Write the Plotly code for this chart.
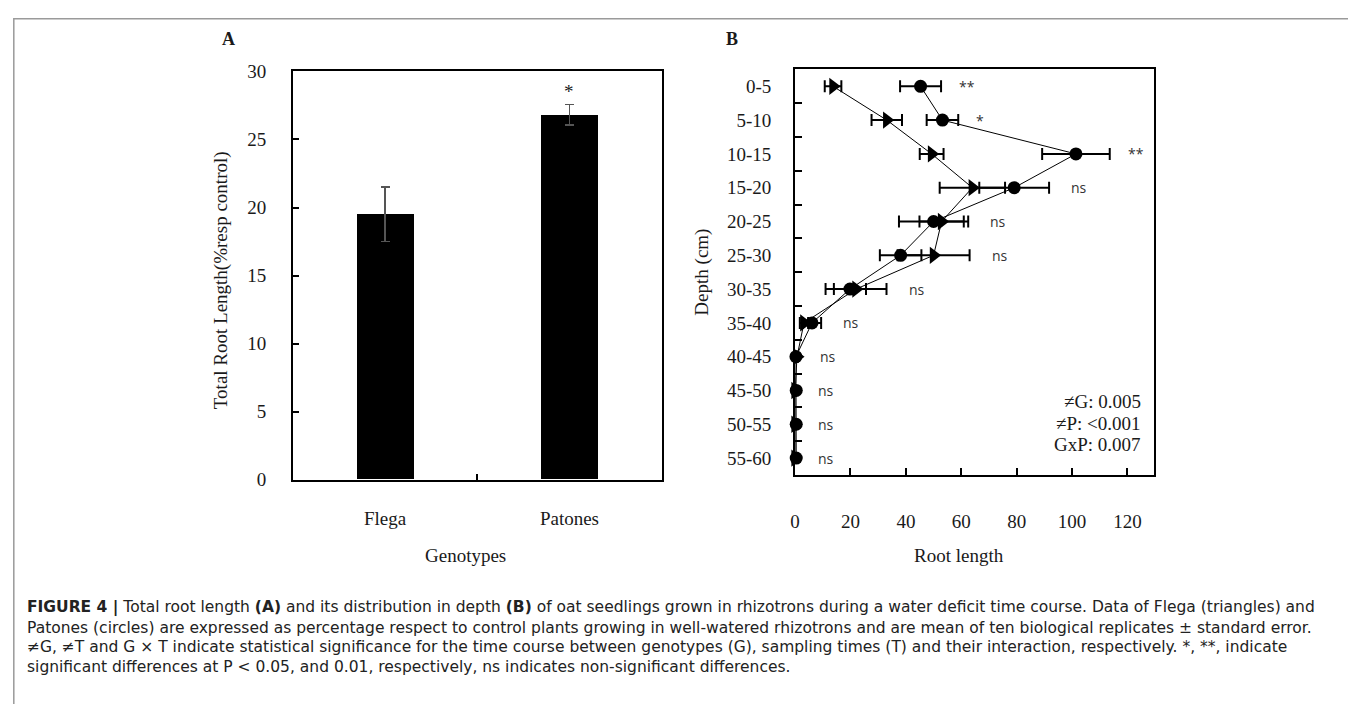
import plotly.graph_objects as go

# ---------------- Data ----------------
genotypes = ["Flega", "Patones"]
total_root = [19.5, 26.8]
total_root_err = [2.0, 0.75]
total_sig = ["", "*"]

depths = ["0-5", "5-10", "10-15", "15-20", "20-25", "25-30",
          "30-35", "35-40", "40-45", "45-50", "50-55", "55-60"]
flega_len = [13.7, 33.1, 49.3, 64.0, 52.9, 50.0, 22.0, 3.2, 0.7, 0.0, 0.0, 0.0]
flega_err = [3.0, 5.5, 4.3, 11.8, 8.0, 13.0, 11.0, 1.5, 0.3, 0.0, 0.0, 0.0]
patones_len = [45.3, 53.2, 101.4, 79.1, 50.0, 38.1, 19.8, 6.1, 0.3, 0.4, 0.4, 0.4]
patones_err = [7.4, 5.7, 12.2, 12.6, 12.5, 7.5, 5.8, 3.3, 0.3, 0.0, 0.0, 0.0]
depth_sig = ["**", "*", "**", "ns", "ns", "ns", "ns", "ns", "ns", "ns", "ns", "ns"]

stats_lines = ["\u2260G: 0.005", "\u2260P: <0.001", "GxP: 0.007"]

caption_lines = [
    "<b>FIGURE 4 |</b> Total root length <b>(A)</b> and its distribution in depth <b>(B)</b> of oat seedlings grown in rhizotrons during a water deficit time course. Data of Flega (triangles) and",
    "Patones (circles) are expressed as percentage respect to control plants growing in well-watered rhizotrons and are mean of ten biological replicates \u00b1 standard error.",
    "\u2260G, \u2260T and G \u00d7 T indicate statistical significance for the time course between genotypes (G), sampling times (T) and their interaction, respectively. *, **, indicate",
    "significant differences at P &lt; 0.05, and 0.01, respectively, ns indicates non-significant differences.",
]

# ---------------- Figure ----------------
W, H = 1356, 704
OFF = 8  # page offset of the plot div
def px(x):
    return (x - OFF) / W
def py(y):
    return 1 - (y - OFF) / H

SERIF = "Liberation Serif, Times New Roman, serif"
SANS = "Open Sans, Liberation Sans, sans-serif"
CAP = "DejaVu Sans, Liberation Sans, sans-serif"
TXT = "#1a1a1a"
FS = 19

fig = go.Figure()

# Panel A bars
fig.add_trace(go.Bar(
    x=genotypes, y=total_root, width=0.31,
    marker=dict(color="black", line=dict(width=0)),
    error_y=dict(type="data", array=total_root_err, color="#555555", thickness=1.5, width=4.5),
    xaxis="x", yaxis="y", showlegend=False,
))

# Panel B lines: circles (Patones) then triangles (Flega)
fig.add_trace(go.Scatter(
    x=patones_len, y=depths, mode="lines+markers",
    line=dict(color="black", width=1),
    marker=dict(symbol="circle", size=13, color="black"),
    error_x=dict(type="data", array=patones_err, color="black", thickness=2, width=6),
    xaxis="x2", yaxis="y2", showlegend=False, cliponaxis=False,
))
fig.add_trace(go.Scatter(
    x=flega_len, y=depths, mode="lines+markers",
    line=dict(color="black", width=1),
    marker=dict(symbol="triangle-right", size=15, color="black"),
    error_x=dict(type="data", array=flega_err, color="black", thickness=2, width=6),
    xaxis="x2", yaxis="y2", showlegend=False, cliponaxis=False,
))

tickfont = dict(family=SERIF, size=FS, color=TXT)

fig.update_layout(
    width=W, height=H,
    margin=dict(l=0, r=0, t=0, b=0),
    paper_bgcolor="white", plot_bgcolor="white",
    bargap=0,
    xaxis=dict(
        domain=[px(289), px(659)], anchor="y",
        type="category", range=[-0.5, 1.5],
        showline=True, linecolor="black", linewidth=2, mirror=True,
        ticks="inside", tickson="boundaries", ticklen=6, tickcolor="black", tickwidth=2,
        tickfont=tickfont, ticklabelstandoff=20, showgrid=False, zeroline=False,
    ),
    yaxis=dict(
        domain=[py(484), py(63)], anchor="x",
        range=[0, 30], tickvals=[0, 5, 10, 15, 20, 25, 30],
        showline=True, linecolor="black", linewidth=2, mirror=True,
        ticks="inside", ticklen=6, tickcolor="black", tickwidth=1.5,
        tickfont=tickfont, ticklabelstandoff=21, showgrid=False, zeroline=False,
    ),
    xaxis2=dict(
        domain=[px(793), px(1153)], anchor="y2",
        range=[0, 129.5], tickvals=[0, 20, 40, 60, 80, 100, 120],
        showline=True, linecolor="black", linewidth=2, mirror=True,
        ticks="inside", ticklen=7, tickcolor="black", tickwidth=1.5,
        tickfont=tickfont, ticklabelstandoff=28, showgrid=False, zeroline=False,
    ),
    yaxis2=dict(
        domain=[py(479), py(61)], anchor="x2",
        type="category", categoryorder="array", categoryarray=depths,
        range=[len(depths) - 0.5, -0.5],
        showline=True, linecolor="black", linewidth=2, mirror=True,
        ticks="inside", tickson="boundaries", ticklen=7, tickcolor="black", tickwidth=1.5,
        tickfont=tickfont, ticklabelstandoff=18, showgrid=False, zeroline=False,
    ),
)

def pann(text, x, y, size=FS, family=SERIF, color=TXT, angle=0, xa="center", ya="middle"):
    return dict(text=text, x=px(x), y=py(y), xref="paper", yref="paper",
                xanchor=xa, yanchor=ya, textangle=angle, showarrow=False,
                font=dict(family=family, size=size, color=color))

ann = []
# Panel labels
ann.append(pann("<b>A</b>", 224, 30, size=18))
ann.append(pann("<b>B</b>", 730, 30, size=18))
# Axis titles
ann.append(pann("Total Root Length(%resp control)", 217, 278, angle=-90))
ann.append(pann("Genotypes", 462, 562))
ann.append(pann("Depth (cm)", 700, 270, angle=-90))
ann.append(pann("Root length", 958, 562))

# Significance panel A
for g, v, e, s in zip(genotypes, total_root, total_root_err, total_sig):
    if s:
        ann.append(dict(text=s, x=g, y=v + e, xref="x", yref="y", xanchor="center",
                        yanchor="bottom", yshift=1, showarrow=False,
                        font=dict(family=SERIF, size=19, color=TXT)))

# Significance panel B
for d, pv, pe, fv, fe, s in zip(depths, patones_len, patones_err, flega_len, flega_err, depth_sig):
    end = max(pv + pe, fv + fe, 0)
    shift = 16 if s.startswith("*") else 20
    ann.append(dict(text=s, x=end, y=d, xref="x2", yref="y2", xanchor="left", yanchor="middle",
                    xshift=shift, showarrow=False,
                    font=dict(family=SANS, size=14, color="#333333")))

# Stats text
for i, line in enumerate(stats_lines):
    ann.append(pann(line, 1142, 403 + 22.5 * i, xa="right"))

# Caption
for i, line in enumerate(caption_lines):
    ann.append(pann(line, 20, 616 + 20.3 * i, size=15.5, family=CAP, color="#222222", xa="left"))

fig.update_layout(annotations=ann)

# Figure border
fig.add_shape(type="rect", xref="paper", yref="paper",
              x0=px(8.8), x1=px(1352), y0=-0.05, y1=py(8.8),
              line=dict(color="#9a9a9a", width=1.5), fillcolor="rgba(0,0,0,0)", layer="below")

fig.write_html("out.html")
